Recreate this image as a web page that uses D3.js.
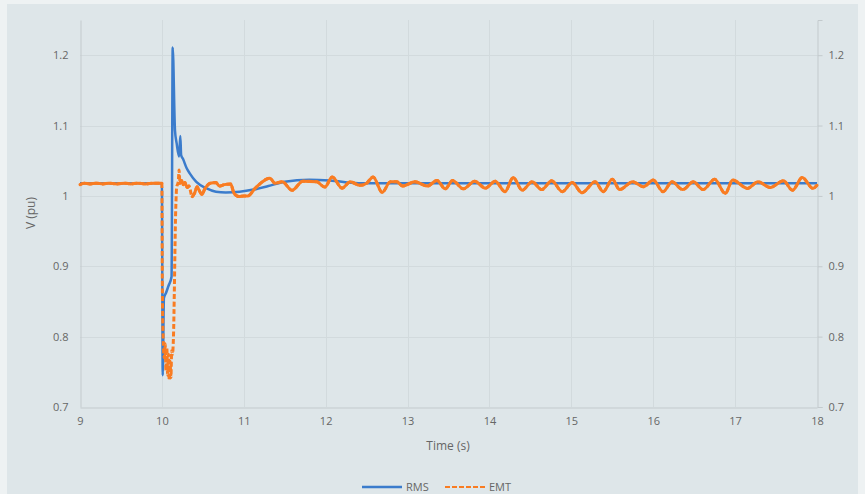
<!DOCTYPE html>
<html>
<head>
<meta charset="utf-8">
<script src="https://cdn.jsdelivr.net/npm/d3@7"></script>
<style>
  html, body { margin: 0; padding: 0; background: #eef2f3; }
  svg { display: block; }
  text { font-family: "Open Sans", "Liberation Sans", sans-serif; fill: #666; }
</style>
</head>
<body>
<svg id="chart" width="865" height="494"></svg>
<script>
// Time axis ticks (s) and voltage axis ticks (pu)
const timeTicks = [9, 10, 11, 12, 13, 14, 15, 16, 17, 18];
const voltTicks = [0.7, 0.8, 0.9, 1.0, 1.1, 1.2];
const voltTickLabels = ["0.7", "0.8", "0.9", "1", "1.1", "1.2"];

// RMS simulation: [time (s), voltage (pu)]
const rmsSeries = [
  [9.0, 1.018], [10.0, 1.018], [10.01, 0.745], [10.025, 0.855], [10.05, 0.862],
  [10.08, 0.872], [10.118, 0.885], [10.132, 1.211], [10.16, 1.093], [10.18, 1.075],
  [10.21, 1.056], [10.225, 1.085], [10.235, 1.058], [10.26, 1.052], [10.30, 1.040],
  [10.34, 1.032], [10.42, 1.020], [10.54, 1.011], [10.66, 1.006], [10.78, 1.005],
  [10.95, 1.006], [11.12, 1.009], [11.30, 1.014], [11.50, 1.020], [11.80, 1.023],
  [12.05, 1.022], [12.40, 1.018], [13.0, 1.018], [14.0, 1.018], [15.0, 1.018],
  [16.0, 1.018], [17.0, 1.018], [18.0, 1.018]
];

// EMT simulation: [time (s), voltage (pu)]
const emtSeries = [
  [9.0, 1.016], [9.05, 1.018], [9.12, 1.017], [9.2, 1.018], [9.28, 1.017],
  [9.35, 1.018], [9.45, 1.017], [9.55, 1.018], [9.62, 1.017], [9.7, 1.018],
  [9.8, 1.017], [9.9, 1.018], [10.0, 1.018],
  [10.005, 0.88], [10.015, 0.80], [10.03, 0.77], [10.04, 0.79], [10.05, 0.752],
  [10.06, 0.785], [10.07, 0.745], [10.08, 0.775], [10.09, 0.738], [10.10, 0.765],
  [10.11, 0.742], [10.12, 0.78], [10.13, 0.775], [10.14, 0.795], [10.17, 0.985],
  [10.18, 1.012], [10.20, 1.020], [10.21, 1.037], [10.22, 1.018], [10.24, 1.022],
  [10.26, 1.016], [10.28, 1.019], [10.31, 1.012], [10.33, 1.014], [10.37, 0.999],
  [10.40, 1.004], [10.43, 1.013], [10.45, 1.009], [10.49, 1.002], [10.52, 1.009],
  [10.59, 1.018], [10.66, 1.019], [10.70, 1.014], [10.76, 1.016], [10.84, 1.017],
  [10.88, 1.004], [10.94, 0.999], [11.0, 1.000], [11.05, 1.000], [11.14, 1.011],
  [11.32, 1.025], [11.38, 1.018], [11.47, 1.020], [11.59, 1.008], [11.72, 1.021],
  [11.89, 1.020], [11.99, 1.0125], [12.08, 1.027], [12.20, 1.011], [12.30, 1.020],
  [12.42, 1.015], [12.50, 1.018], [12.58, 1.027], [12.69, 1.005], [12.79, 1.020],
  [12.87, 1.020], [12.94, 1.014], [13.09, 1.020], [13.24, 1.014], [13.36, 1.022],
  [13.46, 1.010], [13.55, 1.022], [13.68, 1.010], [13.82, 1.021], [13.95, 1.011],
  [14.07, 1.021], [14.19, 1.006], [14.29, 1.026], [14.40, 1.008], [14.52, 1.020],
  [14.64, 1.009], [14.76, 1.0215], [14.89, 1.006], [15.01, 1.019], [15.13, 1.0045],
  [15.29, 1.020], [15.39, 1.006], [15.50, 1.0235], [15.59, 1.009], [15.75, 1.020],
  [15.88, 1.013], [16.00, 1.0225], [16.12, 1.006], [16.23, 1.020], [16.36, 1.009],
  [16.49, 1.020], [16.61, 1.009], [16.75, 1.0235], [16.88, 1.0035], [16.97, 1.0225],
  [17.15, 1.0107], [17.28, 1.020], [17.43, 1.012], [17.59, 1.0215], [17.70, 1.008],
  [17.82, 1.026], [17.95, 1.0107], [18.0, 1.015]
];

const seriesNames = ["RMS", "EMT"];
const seriesColors = ["#3b7ccc", "#f97c22"];

const svg = d3.select("#chart");

// chart panel
svg.append("rect").attr("x", 7).attr("y", 4).attr("width", 851).attr("height", 490)
  .attr("fill", "#dee6e9");

const x = d3.scaleLinear().domain([9, 18]).range([80, 817]);
const y = d3.scaleLinear().domain([0.7, 1.25]).range([407, 20]);

const grid = svg.append("g");
// horizontal gridlines
grid.selectAll("line.h").data(voltTicks.slice(1)).join("line")
  .attr("x1", x(9)).attr("x2", x(18))
  .attr("y1", d => Math.round(y(d)) + 0.5).attr("y2", d => Math.round(y(d)) + 0.5)
  .attr("stroke", "#d2dadd").attr("stroke-width", 1);
// vertical gridlines
grid.selectAll("line.v").data(timeTicks.slice(1, -1)).join("line")
  .attr("x1", d => Math.round(x(d)) + 0.5).attr("x2", d => Math.round(x(d)) + 0.5)
  .attr("y1", y(1.25)).attr("y2", y(0.7))
  .attr("stroke", "#d2dadd").attr("stroke-width", 1);

// axes
const xAxis = d3.axisBottom(x).tickValues(timeTicks).tickSize(0).tickPadding(10)
  .tickFormat(d3.format("d"));
const gx = svg.append("g").attr("transform", `translate(0,${Math.round(y(0.7)) + 0.5})`).call(xAxis);
gx.select(".domain").attr("stroke", "#c3cacd");
gx.selectAll("text").attr("font-size", 11).attr("fill", "#666");

const yLeft = d3.axisLeft(y).tickValues(voltTicks).tickSize(0).tickPadding(12)
  .tickFormat((d, i) => voltTickLabels[i]);
const gl = svg.append("g").attr("transform", `translate(${Math.round(x(9)) + 0.5},0)`).call(yLeft);
gl.select(".domain").attr("stroke", "#c3cacd");
gl.selectAll("text").attr("font-size", 11).attr("fill", "#666");

const yRight = d3.axisRight(y).tickValues(voltTicks).tickSize(5).tickPadding(6)
  .tickFormat((d, i) => voltTickLabels[i]);
const gr = svg.append("g").attr("transform", `translate(${Math.round(x(18)) + 0.5},0)`).call(yRight);
gr.select(".domain").attr("stroke", "#c3cacd");
gr.selectAll(".tick line").attr("stroke", "#c3cacd");
gr.selectAll("text").attr("font-size", 11).attr("fill", "#666");

// axis titles
svg.append("text").attr("x", 448).attr("y", 450).attr("text-anchor", "middle")
  .attr("font-size", 12).attr("fill", "#595959").text("Time (s)");
svg.append("text").attr("transform", "translate(35,213) rotate(-90)")
  .attr("text-anchor", "middle").attr("font-size", 12).attr("fill", "#595959").text("V (pu)");

const line = d3.line().x(d => x(d[0])).y(d => y(d[1])).curve(d3.curveMonotoneX);

// RMS trace
svg.append("path").datum(rmsSeries).attr("d", line)
  .attr("fill", "none").attr("stroke", seriesColors[0]).attr("stroke-width", 2.5)
  .attr("stroke-linejoin", "round");

// EMT trace: dashed everywhere; the dense slow-varying stretches read as solid,
// so they are overdrawn solid, leaving the fast transients dashed.
svg.append("path").datum(emtSeries).attr("d", line)
  .attr("fill", "none").attr("stroke", seriesColors[1]).attr("stroke-width", 3)
  .attr("stroke-dasharray", "5,2.5");

const runs = [];
let cur = [];
for (let i = 0; i < emtSeries.length - 1; i++) {
  const a = emtSeries[i], b = emtSeries[i + 1];
  const steep = Math.abs(y(b[1]) - y(a[1])) > 3 * Math.abs(x(b[0]) - x(a[0]));
  if (!steep) {
    if (cur.length === 0) cur.push(a);
    cur.push(b);
  } else if (cur.length) { runs.push(cur); cur = []; }
}
if (cur.length) runs.push(cur);
svg.selectAll("path.emt-run").data(runs).join("path").attr("class", "emt-run")
  .attr("d", line).attr("fill", "none").attr("stroke", seriesColors[1])
  .attr("stroke-width", 3).attr("stroke-linejoin", "round").attr("stroke-linecap", "round");

// legend
const legend = svg.append("g");
const legendItems = [
  { name: seriesNames[0], color: seriesColors[0], dash: null, x0: 362 },
  { name: seriesNames[1], color: seriesColors[1], dash: "5,2", x0: 445 }
];
legendItems.forEach(it => {
  legend.append("line").attr("x1", it.x0).attr("x2", it.x0 + 40).attr("y1", 487).attr("y2", 487)
    .attr("stroke", it.color).attr("stroke-width", it.dash ? 2 : 2.5)
    .attr("stroke-dasharray", it.dash);
  legend.append("text").attr("x", it.x0 + 44).attr("y", 491).attr("font-size", 11)
    .attr("fill", "#666").text(it.name);
});
</script>
</body>
</html>
